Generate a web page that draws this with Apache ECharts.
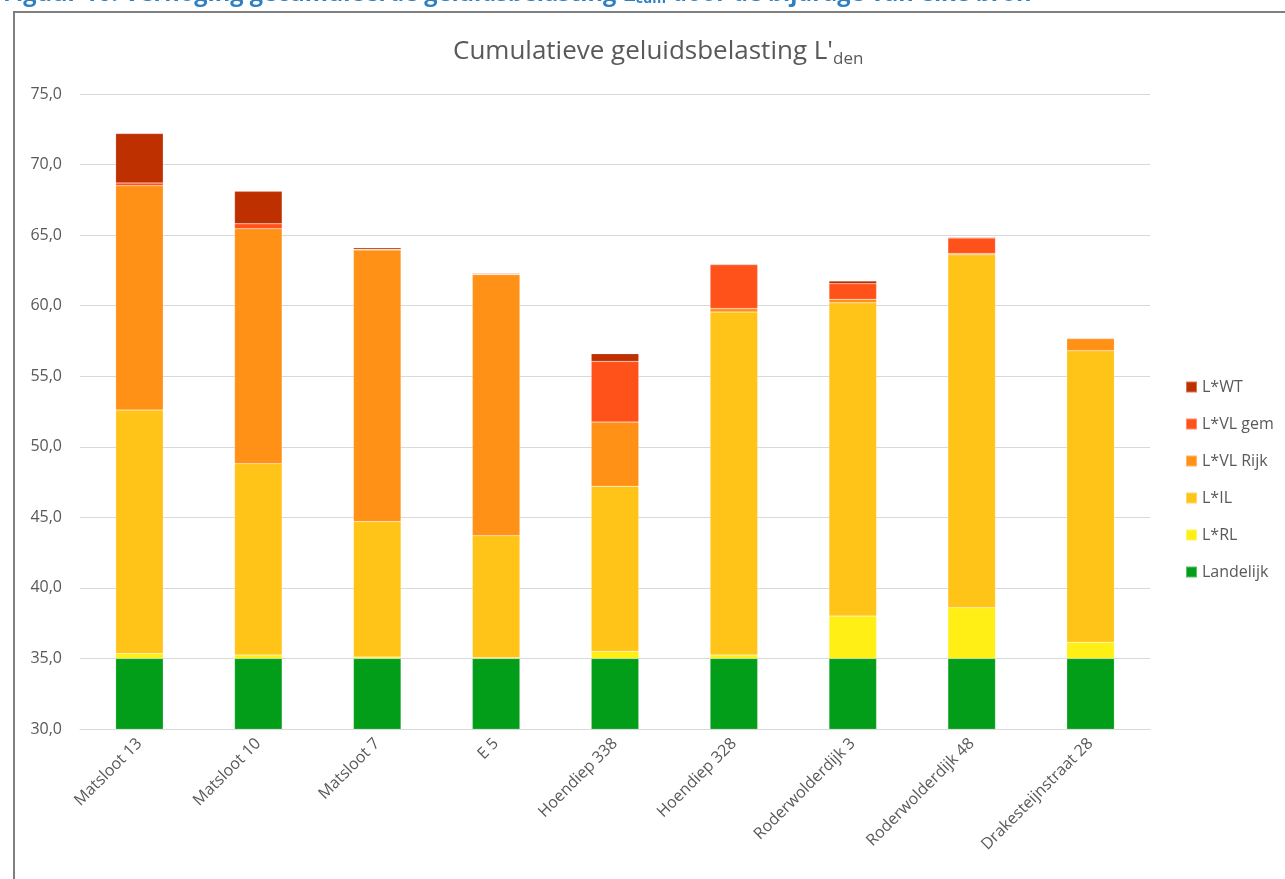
<!DOCTYPE html>
<html>
<head>
<meta charset="utf-8">
<script src="https://cdn.jsdelivr.net/npm/echarts@6/dist/echarts.min.js"></script>
<style>
  html, body { margin: 0; padding: 0; background: #fff; }
  #chart { width: 1285px; height: 879px; }
</style>
</head>
<body>
<div id="chart"></div>
<script>
// Measurement locations
const categories = ['Matsloot 13', 'Matsloot 10', 'Matsloot 7', 'E 5', 'Hoendiep 338',
  'Hoendiep 328', 'Roderwolderdijk 3', 'Roderwolderdijk 48', 'Drakesteijnstraat 28'];

// Contribution of each source (dB), stacked from the bottom up
const landelijk = [35.0, 35.0, 35.0, 35.0, 35.0, 35.0, 35.0, 35.0, 35.0];
const lRL       = [0.35, 0.25, 0.10, 0.05, 0.50, 0.25, 3.00, 3.60, 1.15];
const lIL       = [17.25, 13.55, 9.60, 8.65, 11.70, 24.30, 22.20, 25.00, 20.65];
const lVLRijk   = [15.90, 16.65, 19.25, 18.50, 4.55, 0.25, 0.25, 0.10, 0.85];
const lVLGem    = [0.20, 0.35, 0.05, 0.05, 4.30, 3.10, 1.10, 1.10, 0.05];
const lWT       = [3.50, 2.30, 0.10, 0.05, 0.55, 0.05, 0.20, 0.05, 0.05];

const yTicks = { min: 30, max: 75, step: 5 };

const seriesDefs = [
  { name: 'Landelijk',  data: landelijk, color: '#029E19' },
  { name: 'L*RL',       data: lRL,       color: '#FFEF14' },
  { name: 'L*IL',       data: lIL,       color: '#FFC417' },
  { name: 'L*VL Rijk',  data: lVLRijk,   color: '#FF9116' },
  { name: 'L*VL gem',   data: lVLGem,    color: '#FF521A' },
  { name: 'L*WT',       data: lWT,       color: '#BE3000' }
];

const font = '"Open Sans", Lato, sans-serif';
const grey = '#595959';

const chart = echarts.init(document.getElementById('chart'), null, { renderer: 'canvas' });

chart.setOption({
  backgroundColor: '#ffffff',
  animation: false,
  graphic: [
    // report heading above the chart frame
    {
      type: 'text', left: 3, top: -18, z: 10,
      style: {
        text: '{b|Figuur 10: Verhoging gecumuleerde geluidsbelasting L}{s|cum}{b| door de bijdrage van elke bron}',
        rich: {
          b: { fontFamily: font, fontWeight: 'bold', fontSize: 23.6, fill: '#2F7FC1' },
          s: { fontFamily: font, fontWeight: 'bold', fontSize: 14, fill: '#2F7FC1', padding: [11, 0, 0, 0] }
        }
      }
    },
    // chart frame
    {
      type: 'polyline', z: 10,
      shape: { points: [[14, 879], [14, 12], [1285, 12]] },
      style: { stroke: '#7f7f7f', lineWidth: 2, fill: null }
    }
  ],
  title: {
    text: "{t|Cumulatieve geluidsbelasting L'}{s|den}",
    left: 448,
    top: 31,
    textStyle: {
      fontWeight: 'normal',
      rich: {
        t: { fontFamily: font, fontSize: 26, fontWeight: 'normal', color: grey },
        s: { fontFamily: font, fontSize: 17, fontWeight: 'normal', color: grey, padding: [15, 0, 0, 0] }
      }
    }
  },
  legend: {
    data: ['L*WT', 'L*VL gem', 'L*VL Rijk', 'L*IL', 'L*RL', 'Landelijk'],
    orient: 'vertical',
    left: 1180,
    top: 373,
    itemWidth: 11,
    itemHeight: 11,
    itemGap: 19,
    icon: 'rect',
    textStyle: { fontFamily: font, fontSize: 16, color: grey, lineHeight: 18 }
  },
  grid: { left: 80, right: 135, top: 94, bottom: 150, containLabel: false },
  xAxis: {
    type: 'category',
    data: categories,
    axisTick: { show: false },
    axisLine: { lineStyle: { color: '#d9d9d9', width: 1 } },
    axisLabel: {
      rotate: 45,
      interval: 0,
      margin: 12,
      fontFamily: font,
      fontSize: 16,
      color: grey
    }
  },
  yAxis: {
    type: 'value',
    min: yTicks.min,
    max: yTicks.max,
    interval: yTicks.step,
    axisLine: { show: false },
    axisTick: { show: false },
    splitLine: { lineStyle: { color: '#d9d9d9', width: 1 } },
    axisLabel: {
      margin: 18,
      fontFamily: font,
      fontSize: 16,
      color: grey,
      formatter: v => v.toFixed(1).replace('.', ',')
    }
  },
  series: seriesDefs.map(s => ({
    name: s.name,
    type: 'bar',
    stack: 'total',
    data: s.data,
    barWidth: '40%',
    itemStyle: { color: s.color, borderColor: 'rgba(255,255,255,0.35)', borderWidth: 0.5 }
  }))
});
</script>
</body>
</html>
